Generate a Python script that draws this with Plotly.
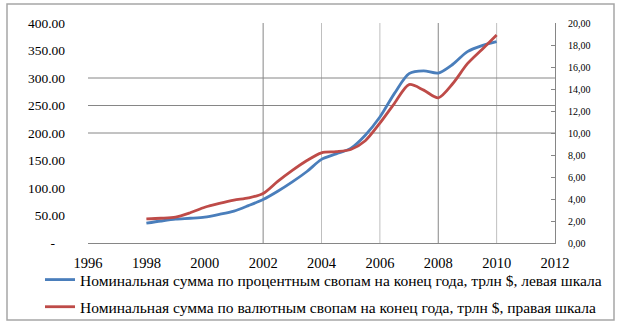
import plotly.graph_objects as go

# ---- data ----
years = [1998.0, 1998.5, 1999.0, 1999.5, 2000.0, 2000.5, 2001.0, 2001.5,
         2002.0, 2002.5, 2003.0, 2003.5, 2004.0, 2004.5, 2005.0, 2005.5,
         2006.0, 2006.5, 2007.0, 2007.5, 2008.0, 2008.5, 2009.0, 2009.5, 2010.0]

irs_notional = [36, 40, 43.5, 45, 47, 52, 58, 68,
                79, 94, 111, 130, 152, 162, 172, 196,
                229, 272, 308, 313, 309, 325, 348, 359, 366]

ccs_notional = [2.2, 2.25, 2.35, 2.75, 3.25, 3.6, 3.9, 4.1,
                4.5, 5.6, 6.6, 7.5, 8.2, 8.3, 8.5, 9.3,
                10.9, 12.7, 14.4, 13.9, 13.2, 14.5, 16.3, 17.6, 18.9]

irs_name = "Номинальная сумма по процентным свопам на конец года, трлн $, левая шкала"
ccs_name = "Номинальная сумма по валютным свопам на конец года, трлн $, правая шкала"

x_ticks = [1996, 1998, 2000, 2002, 2004, 2006, 2008, 2010, 2012]
x_labels = [str(v) for v in x_ticks]

left_ticks = [0, 50, 100, 150, 200, 250, 300, 350, 400]
left_labels = ["-\u00a0\u00a0\u00a0", "50.00", "100.00", "150.00", "200.00",
               "250.00", "300.00", "350.00", "400.00"]

right_ticks = [0, 2, 4, 6, 8, 10, 12, 14, 16, 18, 20]
right_labels = ["0,00", "2,00", "4,00", "6,00", "8,00", "10,00", "12,00",
                "14,00", "16,00", "18,00", "20,00"]

grid_years_dark = [2002, 2008]
grid_years_light = [2004, 2006, 2010]
grid_left_values = [200, 250, 300]

# ---- styling ----
BLUE = "#4A7EBB"
RED = "#BE4B48"
DARK_GRID = "#868686"
LIGHT_GRID = "#BFBFBF"
SERIF = "Liberation Serif, Times New Roman, serif"
CLEAR = "rgba(0,0,0,0)"

W, H = 623, 323
L, R, T, B = 88, 68, 23, 80
pw, ph = W - L - R, H - T - B


def px_x(p):
    return (p - L) / pw


def px_y(p):
    return (H - B - p) / ph


fig = go.Figure()
fig.add_trace(go.Scatter(
    x=years, y=irs_notional, name=irs_name, mode="lines",
    line=dict(color=BLUE, width=2.8, shape="spline", smoothing=0.8),
    legendgroup="a", yaxis="y"))
fig.add_trace(go.Scatter(
    x=years, y=ccs_notional, name=ccs_name, mode="lines",
    line=dict(color=RED, width=2.8, shape="spline", smoothing=0.8),
    legendgroup="b", yaxis="y2"))

shapes = []
for yv in grid_years_dark:
    shapes.append(dict(type="line", xref="x", yref="paper", x0=yv, x1=yv,
                       y0=0, y1=1, line=dict(color=DARK_GRID, width=1), layer="below"))
for yv in grid_years_light:
    shapes.append(dict(type="line", xref="x", yref="paper", x0=yv, x1=yv,
                       y0=0, y1=1, line=dict(color=LIGHT_GRID, width=1), layer="below"))
for v in grid_left_values:
    shapes.append(dict(type="line", xref="paper", yref="y", x0=0, x1=1,
                       y0=v, y1=v, line=dict(color=DARK_GRID, width=1), layer="below"))
# outer chart frame
shapes.append(dict(type="rect", xref="paper", yref="paper",
                   x0=px_x(7), x1=px_x(614), y0=px_y(320), y1=px_y(4),
                   line=dict(color="#A6A6A6", width=1.5)))

fig.update_layout(
    width=W, height=H,
    margin=dict(l=L, r=R, t=T, b=B, autoexpand=False),
    paper_bgcolor="white", plot_bgcolor="white",
    font=dict(family=SERIF, color="black"),
    shapes=shapes,
    showlegend=True,
    legend=dict(xref="container", yref="container",
                x=40 / W, xanchor="left", y=1 - 263 / H, yanchor="top",
                font=dict(family=SERIF, size=15.5, color="black"),
                bgcolor=CLEAR, tracegroupgap=4, itemwidth=30),
    xaxis=dict(range=[1996, 2012], tickmode="array", tickvals=x_ticks,
               ticktext=x_labels, showgrid=False, zeroline=False,
               showline=True, linecolor=DARK_GRID, linewidth=1, ticks="",
               tickfont=dict(family=SERIF, size=14.5, color="black"),
               ticklabelstandoff=7, fixedrange=True),
    yaxis=dict(range=[0, 400], tickmode="array", tickvals=left_ticks,
               ticktext=left_labels, showgrid=False, zeroline=False,
               showline=False, ticks="",
               tickfont=dict(family=SERIF, size=13.5, color="black"),
               ticklabelstandoff=22),
    yaxis2=dict(range=[0, 20], overlaying="y", side="right", anchor="x",
                tickmode="array", tickvals=right_ticks, ticktext=right_labels,
                showgrid=False, zeroline=False, showline=True,
                linecolor=DARK_GRID, linewidth=1, ticks="inside", ticklen=4,
                tickcolor=DARK_GRID,
                tickfont=dict(family=SERIF, size=10, color="black"),
                ticklabelstandoff=10),
)

fig.write_html("out.html", config={"displayModeBar": False},
               post_script="document.body.style.margin='0px';")
